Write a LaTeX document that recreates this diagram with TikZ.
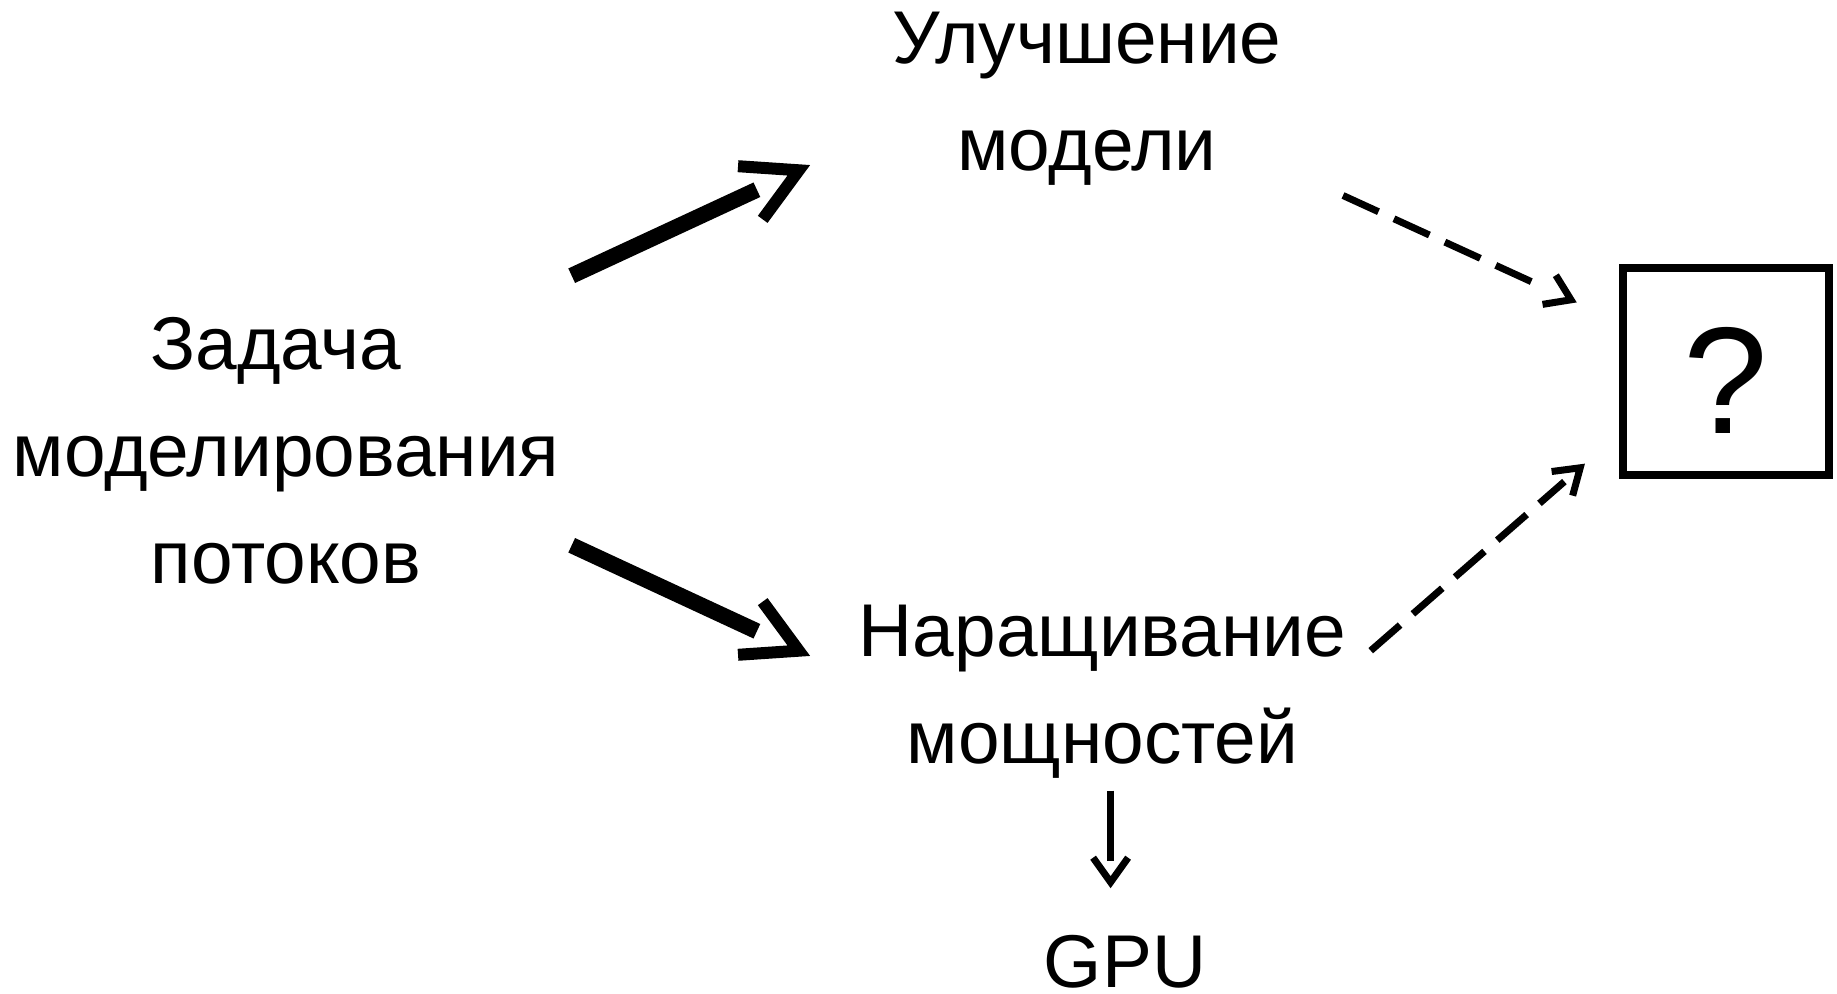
\documentclass[tikz,border=0pt]{standalone}
\usepackage{fontspec}
\setmainfont{Liberation Sans}
\usetikzlibrary{arrows.meta}
\makeatletter
\pgfdeclarearrow{
  name = GapBarb,
  parameters = {\the\pgfarrowlength,\the\pgfarrowwidth,\the\pgfarrowinset,\the\pgfarrowlinewidth},
  setup code = {
    \pgfarrowssettipend{0pt}
    \pgfarrowssetlineend{-\pgfarrowinset}
    \pgfarrowssetbackend{-\pgfarrowlength}
    \pgfarrowssavethe\pgfarrowlength
    \pgfarrowssavethe\pgfarrowwidth
    \pgfarrowssavethe\pgfarrowlinewidth
  },
  drawing code = {
    \pgfsetdash{}{0pt}
    \pgfsetmiterjoin
    \pgfsetbuttcap
    \pgfsetlinewidth{\pgfarrowlinewidth}
    \pgfpathmoveto{\pgfqpoint{-\pgfarrowlength}{.5\pgfarrowwidth}}
    \pgfpathlineto{\pgfpointorigin}
    \pgfpathlineto{\pgfqpoint{-\pgfarrowlength}{-.5\pgfarrowwidth}}
    \pgfusepathqstroke
  },
  defaults = {length=10pt, width=10pt, inset=5pt}
}
\makeatother
\tikzset{
  lbl/.style={align=center, anchor=base, inner sep=0pt, font=\fontsize{37.4pt}{53.5pt}\selectfont},
  bigarrow/.style={line width=8pt, -{GapBarb[length=26.7pt, width=29.3pt, inset=23.1pt, line width=6pt]}},
  dasharrow/.style={line width=3.5pt, dash pattern=on 19.5pt off 8.5pt, -{GapBarb[length=12pt, width=16pt, inset=#1, line width=3.5pt]}},
  smallarrow/.style={line width=3.85pt, -{GapBarb[length=12.25pt, width=17.5pt, inset=10.75pt, line width=3.5pt]}},
  qbox/.style={draw, line width=4pt, minimum width=103pt, minimum height=103.5pt, inner sep=0pt,
    font=\fontsize{76pt}{76pt}\selectfont, text height=62pt, text depth=0pt}
}
\begin{document}
\begin{tikzpicture}[x=0.5pt, y=-0.5pt]
\useasboundingbox (0,0) rectangle (1837,994);
\node[lbl] (zad) at (286,583) {Задача\hspace*{0.27em}\\моделирования\\потоков};
\node[lbl] (ul) at (1087,171) {Улучшение\\модели};
\node[lbl] (nar) at (1102.5,763) {Наращивание\\мощностей};
\node[lbl] (gpu) at (1125,987.6) {GPU};
\node[qbox] (q) at (1726,371.5) {?};
\coordinate (a1s) at (571.7,275.7);
\coordinate (a1e) at (798.8,170.3);
\coordinate (a2s) at (571.7,545.3);
\coordinate (a2e) at (798.8,650.7);
\coordinate (a3s) at (1343,195.5);
\coordinate (a3e) at (1571,299.8);
\coordinate (a4s) at (1370.7,650.7);
\coordinate (a4e) at (1580.2,467.8);
\coordinate (a5s) at (1110.6,790.7);
\coordinate (a5e) at (1110.6,882.2);
\draw[bigarrow] (a1s) -- (a1e);
\draw[bigarrow] (a2s) -- (a2e);
\draw[dasharrow=17.5pt] (a3s) -- (a3e);
\draw[dasharrow=10.5pt] (a4s) -- (a4e);
\draw[smallarrow] (a5s) -- (a5e);
\end{tikzpicture}
\end{document}
